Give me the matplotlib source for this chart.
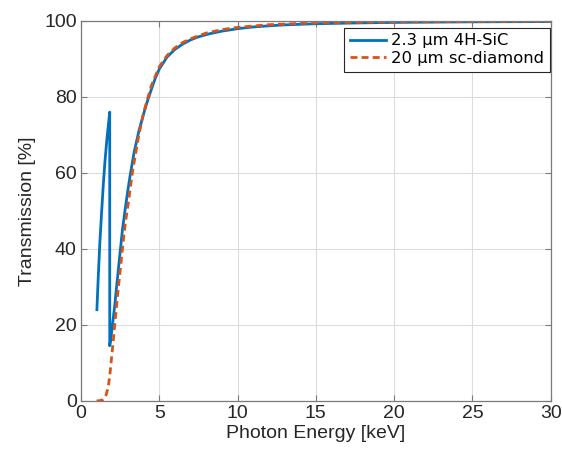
import matplotlib
matplotlib.use("Agg")
import matplotlib.pyplot as plt

# 2.3 um 4H-SiC membrane (Si K-edge near 1.84 keV)
e_sic = [1.02, 1.1, 1.2, 1.32, 1.43, 1.53, 1.65, 1.75, 1.839, 1.84, 1.9, 2.0,
         2.17, 2.3, 2.5, 2.65, 2.81, 3.0, 3.13, 3.4, 3.7, 4.0, 4.2, 4.5, 4.72,
         5.0, 5.5, 6.0, 6.5, 7.0, 7.5, 8.2, 9.0, 10, 11, 12, 13, 15, 17.5, 20,
         25, 30]
t_sic = [24, 32, 41, 49.6, 57, 62.8, 68.5, 72.5, 76, 14.5, 16, 19.5,
         25.5, 31, 39, 45, 50, 55.5, 59, 65.5, 71, 75.5, 78.3, 82, 84.6,
         87.3, 90.5, 92.5, 93.9, 95.0, 95.8, 96.6, 97.3, 97.95, 98.4, 98.7,
         98.95, 99.25, 99.45, 99.6, 99.75, 99.82]

# 20 um single-crystal diamond
e_dia = [1.0, 1.2, 1.4, 1.5, 1.6, 1.74, 1.85, 1.96, 2.07, 2.17, 2.38, 2.5,
         2.7, 2.85, 3.02, 3.3, 3.7, 4.0, 4.5, 5.0, 5.5, 6.0, 6.5, 7.0, 8.0,
         9.0, 10, 12, 15, 20, 25, 30]
t_dia = [0.0, 0.05, 0.3, 0.7, 1.5, 3.5, 7, 11.5, 16, 20.5, 29.5, 34,
         42, 47.2, 52, 60.5, 70, 75.8, 83, 87.9, 90.9, 92.9, 94.3, 95.3, 96.8,
         97.7, 98.3, 99.0, 99.5, 99.75, 99.85, 99.9]

labels = ["2.3 \u00b5m 4H-SiC", "20 \u00b5m sc-diamond"]
xticks = [0, 5, 10, 15, 20, 25, 30]
yticks = [0, 20, 40, 60, 80, 100]

dark = "#262626"
axis_gray = "#7a7a7a"

fig = plt.figure(figsize=(5.62, 4.54), dpi=100)
ax = fig.add_axes([0.144, 0.117, 0.836, 0.837])

ax.plot(e_sic, t_sic, color="#0072BD", lw=2.0, label=labels[0])
ax.plot(e_dia, t_dia, color="#D95319", lw=2.0, ls=(0, (2.5, 1.5)),
        label=labels[1])

ax.set_xlim(0, 30)
ax.set_ylim(0, 100)
ax.set_xticks(xticks)
ax.set_yticks(yticks)
ax.grid(True, color="#dcdcdc", lw=0.8)
ax.set_axisbelow(True)

for s in ax.spines.values():
    s.set_color(axis_gray)
    s.set_linewidth(0.9)
ax.tick_params(direction="in", length=4, width=0.8, color=axis_gray,
               top=True, right=True, labelsize=14, labelcolor=dark, pad=3)
for lab in ax.get_xticklabels() + ax.get_yticklabels():
    lab.set_family("Liberation Sans")

ax.set_xlabel("Photon Energy [keV]", fontsize=14, family="Liberation Sans",
              color=dark, labelpad=2)
ax.set_ylabel("Transmission [%]", fontsize=14, family="Liberation Sans",
              color=dark, labelpad=6)

leg = ax.legend(loc="upper right", bbox_to_anchor=(0.998, 0.982),
                borderaxespad=0, fontsize=11.8, fancybox=False, framealpha=1,
                edgecolor=dark, handlelength=2.2, handletextpad=0.3,
                borderpad=0.35, labelspacing=0.15)
leg.get_frame().set_linewidth(0.8)

fig.savefig("out.png", dpi=100)
